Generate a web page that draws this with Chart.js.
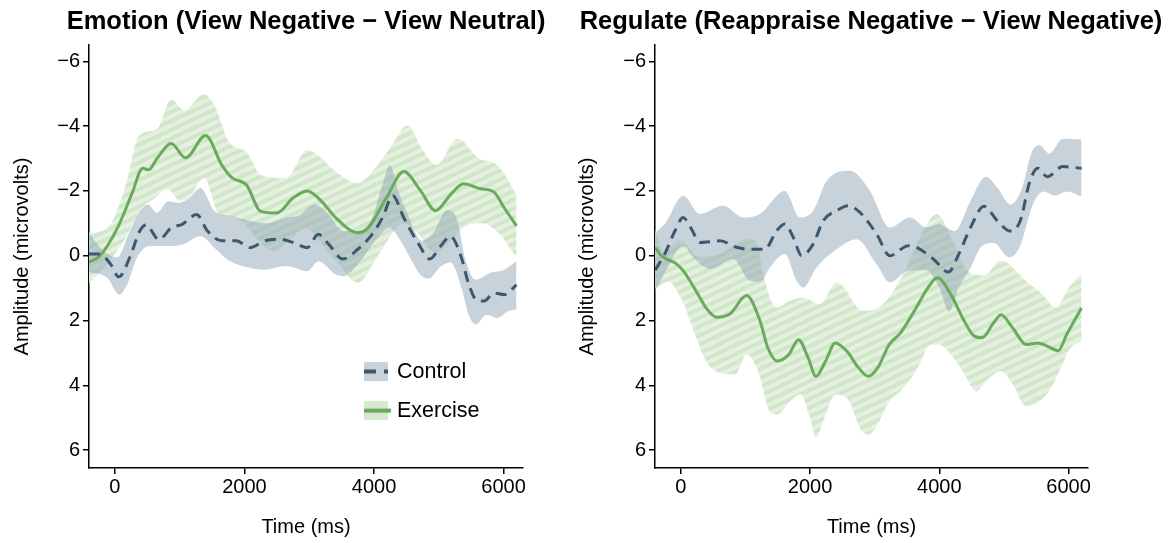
<!DOCTYPE html>
<html>
<head>
<meta charset="utf-8">
<script src="https://cdn.jsdelivr.net/npm/chart.js@4.4.1/dist/chart.umd.min.js"></script>
<style>
  html, body { margin: 0; padding: 0; background: #fff; }
  #wrap { position: relative; width: 1175px; height: 543px; overflow: hidden; }
  canvas { position: absolute; top: 0; }
  #emo { left: 0; }
  #reg { left: 572px; }
</style>
</head>
<body>
<div id="wrap">
  <canvas id="emo" width="612" height="543"></canvas>
  <canvas id="reg" width="598" height="543"></canvas>
</div>
<script>
// ── axis ticks ──────────────────────────────────────────────
const timeTicks = [0, 2000, 4000, 6000];
const ampTicks = [-6, -4, -2, 0, 2, 4, 6];

// ── Emotion panel (View Negative − View Neutral) ────────────
const emoCtrlT = [-400, -230, -70, 60, 240, 380, 480, 680, 870, 1040, 1260, 1430, 1650, 1870, 2090, 2310, 2530, 2750, 2970, 3140, 3300, 3520, 3750, 3970, 4130, 4290, 4460, 4690, 4860, 5030, 5180, 5340, 5460, 5590, 5700, 5850, 6010, 6200];
const emoCtrl  = [-0.05, -0.05, 0.25, 0.65, 0.0, -0.75, -0.95, -0.5, -0.86, -0.97, -1.27, -0.76, -0.46, -0.46, -0.25, -0.46, -0.51, -0.41, -0.25, -0.66, -0.36, 0.1, -0.2, -0.66, -1.17, -1.85, -1.17, -0.36, 0.1, -0.3, -0.6, 0.0, 0.86, 1.38, 1.4, 1.15, 1.2, 0.9];
const emoCtrlTopT = [-400, -180, 40, 210, 380, 510, 650, 820, 980, 1150, 1320, 1540, 1810, 2090, 2350, 2640, 2850, 3080, 3300, 3520, 3750, 3970, 4130, 4250, 4360, 4520, 4740, 4900, 5130, 5290, 5400, 5570, 5790, 6010, 6200];
const emoCtrlTop  = [-0.7, -0.15, 0.05, -0.66, -1.37, -1.58, -1.32, -1.68, -1.63, -1.78, -2.09, -1.37, -1.22, -1.07, -1.0, -1.17, -1.25, -1.58, -1.27, -0.76, -0.76, -1.17, -2.19, -2.8, -2.09, -1.27, -0.46, -0.66, -1.4, -1.07, 0.05, 0.74, 0.53, 0.43, 0.17];
const emoCtrlBotT = [-400, -120, 70, 210, 330, 540, 820, 1050, 1320, 1560, 1760, 2090, 2310, 2640, 2970, 3140, 3410, 3530, 3750, 4020, 4240, 4410, 4580, 4720, 4850, 5020, 5180, 5350, 5460, 5570, 5740, 5900, 6070, 6200];
const emoCtrlBot  = [0.5, 0.68, 1.2, 0.79, 0.1, -0.3, -0.3, -0.35, -0.6, -0.2, 0.15, 0.38, 0.43, 0.32, 0.48, 0.17, 0.58, 0.63, 0.27, -0.46, -0.86, -0.46, 0.15, 0.6, 0.7, 0.35, 0.2, 0.99, 1.82, 2.12, 1.82, 1.92, 1.71, 1.66];

const emoExT = [-400, -230, 40, 260, 430, 520, 650, 870, 1090, 1400, 1650, 1810, 2030, 2250, 2500, 2750, 2970, 3190, 3410, 3750, 3910, 4190, 4460, 4720, 4950, 5180, 5380, 5640, 5850, 6010, 6200];
const emoEx  = [0.2, 0.0, -0.86, -1.9, -2.7, -2.65, -3.0, -3.46, -3.02, -3.71, -2.8, -2.4, -2.19, -1.37, -1.32, -1.78, -2.0, -1.68, -1.17, -0.71, -0.86, -1.78, -2.6, -2.0, -1.39, -1.88, -2.22, -2.07, -1.97, -1.48, -0.92];
const emoExTopT = [-400, -120, 155, 376, 650, 870, 1070, 1370, 1540, 1760, 2030, 2250, 2640, 2970, 3190, 3410, 3750, 3970, 4240, 4520, 4740, 4960, 5290, 5620, 5900, 6200];
const emoExTop  = [-0.7, -0.85, -2.09, -3.71, -3.9, -4.83, -4.48, -4.98, -4.63, -3.51, -3.2, -2.49, -2.39, -3.26, -3.0, -2.59, -2.24, -2.59, -3.3, -4.02, -3.3, -2.8, -3.61, -3.0, -2.8, -1.88];
const emoExBotT = [-400, -100, 150, 400, 600, 820, 1000, 1150, 1380, 1600, 1800, 2000, 2200, 2450, 2700, 2950, 3200, 3450, 3750, 4000, 4200, 4450, 4650, 4950, 5200, 5400, 5650, 5900, 6200];
const emoExBot  = [0.85, 0.2, -0.5, -1.45, -1.75, -2.05, -1.7, -1.8, -2.4, -1.3, -1.2, -1.0, -0.5, -0.15, -0.5, -0.85, -0.35, 0.25, 0.84, 0.2, -0.45, -1.0, -0.75, -0.1, -0.5, -0.9, -1.0, -0.75, 0.05];

// ── Regulate panel (Reappraise Negative − View Negative) ────
const regCtrlT = [-400, -250, -90, 36, 165, 294, 604, 862, 1068, 1300, 1481, 1610, 1739, 1868, 2048, 2203, 2410, 2590, 2771, 3029, 3235, 3519, 3648, 3906, 4140, 4300, 4480, 4690, 4900, 5100, 5250, 5400, 5520, 5670, 5910, 6200];
const regCtrl  = [0.45, -0.05, -0.77, -1.18, -0.82, -0.41, -0.46, -0.26, -0.2, -0.2, -0.77, -0.98, -0.57, 0.0, -0.36, -1.08, -1.39, -1.54, -1.34, -0.67, 0.0, -0.31, -0.26, 0.1, 0.5, -0.05, -0.86, -1.53, -1.07, -0.76, -1.07, -2.29, -2.7, -2.44, -2.75, -2.7];
const regCtrlTopT = [-400, -240, 36, 294, 655, 965, 1222, 1610, 1842, 2048, 2255, 2616, 2926, 3235, 3545, 3803, 4000, 4240, 4480, 4720, 4900, 5100, 5280, 5430, 5550, 5700, 5910, 6200];
const regCtrlTop  = [-0.7, -1.0, -1.85, -1.29, -1.54, -1.18, -1.29, -2.0, -1.18, -1.39, -2.31, -2.62, -2.0, -0.87, -1.18, -0.87, -0.97, -0.76, -1.68, -2.44, -2.09, -1.58, -2.09, -3.2, -3.41, -3.15, -3.61, -3.59];
const regCtrlBotT = [-400, -240, 36, 191, 449, 810, 1068, 1222, 1400, 1610, 1791, 1894, 2100, 2410, 2720, 3029, 3235, 3519, 3800, 4000, 4150, 4300, 4480, 4660, 4840, 5080, 5250, 5430, 5610, 5790, 5970, 6200];
const regCtrlBot  = [1.1, 0.5, -0.3, 0.05, 0.41, 0.1, 0.77, 0.8, 0.3, -0.05, 0.77, 0.98, 0.36, -0.2, -0.51, 0.26, 0.82, 0.46, 0.45, 0.99, 1.71, 0.99, 0.38, -0.3, -0.4, 0.05, -0.3, -1.5, -1.98, -1.85, -1.98, -1.83];

const regExT = [-400, -300, -170, -90, 36, 294, 390, 553, 758, 1017, 1223, 1345, 1495, 1670, 1820, 1970, 2090, 2240, 2390, 2570, 2750, 2900, 3045, 3225, 3400, 3640, 3820, 3970, 4180, 4360, 4540, 4660, 4840, 4955, 5135, 5345, 5520, 5670, 5840, 5970, 6200];
const regEx  = [-0.26, 0.0, 0.15, 0.22, 0.46, 1.29, 1.61, 1.9, 1.8, 1.23, 2.0, 2.84, 3.25, 3.05, 2.59, 3.15, 3.72, 3.25, 2.69, 2.95, 3.46, 3.72, 3.46, 2.74, 2.38, 1.61, 1.0, 0.68, 1.2, 1.92, 2.48, 2.53, 2.07, 1.82, 2.23, 2.74, 2.69, 2.79, 2.93, 2.43, 1.61];
const regExTopT = [-400, -274, -15, 294, 604, 1000, 1170, 1274, 1481, 1687, 1900, 2150, 2410, 2822, 3131, 3441, 3751, 3958, 4200, 4450, 4700, 4950, 5350, 5600, 5800, 6000, 6200];
const regExTop  = [-0.8, -0.15, -0.46, 0.05, -0.05, -0.51, -0.45, 0.57, 1.6, 1.39, 1.3, 1.5, 0.82, 1.7, 1.49, 0.57, -0.77, -1.29, -0.5, 0.5, 0.6, 0.15, 0.8, 1.2, 1.6, 1.0, 0.55];
const regExBotT = [-400, -200, 0, 240, 390, 540, 840, 1015, 1195, 1375, 1495, 1670, 1850, 2000, 2090, 2240, 2390, 2570, 2800, 2900, 3045, 3225, 3400, 3640, 3880, 4000, 4180, 4360, 4570, 4720, 4955, 5135, 5345, 5550, 5730, 5880, 6030, 6200];
const regExBot  = [1.0, 0.8, 1.3, 2.54, 3.25, 3.56, 3.67, 3.05, 3.56, 4.8, 4.9, 4.54, 4.28, 5.0, 5.62, 4.9, 4.28, 4.39, 5.41, 5.52, 5.2, 4.49, 4.18, 3.56, 2.74, 2.74, 3.05, 3.56, 4.18, 3.87, 3.56, 3.97, 4.64, 4.49, 4.08, 3.46, 2.84, 2.64];

// ── styling ─────────────────────────────────────────────────
const CTRL_LINE = '#3c5870';
const CTRL_BAND = 'rgba(145,165,181,0.5)';
const EX_LINE = '#6aaa5c';
const EX_KEY = '#d6e9cf';

Chart.defaults.font.family = "'Liberation Sans', Arial, Helvetica, sans-serif";
Chart.defaults.color = '#000';

function pts(ts, vs) {
  return ts.map((t, i) => ({ x: t, y: vs[i] }));
}

function minusFmt(v) {
  return v < 0 ? '\u2212' + Math.abs(v) : String(v);
}

function stripes() {
  const c = document.createElement('canvas');
  c.width = 4; c.height = 8;
  const g = c.getContext('2d');
  g.fillStyle = '#d2e7ca';
  g.fillRect(0, 0, 4, 8);
  g.fillStyle = '#e5f1e0';
  g.fillRect(0, 0, 4, 4);
  const p = g.createPattern(c, 'repeat');
  p.setTransform(new DOMMatrix().rotate(-25));
  return p;
}

// legend drawn inside the left panel
const cornerLegend = {
  id: 'cornerLegend',
  afterDraw(chart) {
    const { ctx, chartArea } = chart;
    const kx = chartArea.left + 275;
    const tx = chartArea.left + 308;
    const rows = [
      { label: 'Control', y: chartArea.top + 317, fill: 'rgb(200,210,218)', color: CTRL_LINE, dash: [12, 8] },
      { label: 'Exercise', y: chartArea.top + 356, fill: EX_KEY, color: EX_LINE, dash: [] }
    ];
    ctx.save();
    rows.forEach(r => {
      ctx.fillStyle = r.fill;
      ctx.fillRect(kx, r.y, 24, 19);
      ctx.strokeStyle = r.color;
      ctx.lineWidth = 4;
      ctx.setLineDash(r.dash);
      ctx.beginPath();
      ctx.moveTo(kx, r.y + 9.5);
      ctx.lineTo(kx + (r.dash.length ? 24 : 27), r.y + 9.5);
      ctx.stroke();
      ctx.setLineDash([]);
      ctx.fillStyle = '#000';
      ctx.font = "21.5px 'Liberation Sans', Arial, sans-serif";
      ctx.textBaseline = 'middle';
      ctx.textAlign = 'left';
      ctx.fillText(r.label, tx, r.y + 10);
    });
    ctx.restore();
  }
};

function makeChart(id, title, d, opt) {
  const edge = { borderColor: 'rgba(0,0,0,0)', borderWidth: 1, pointRadius: 0 };
  const tickGrid = { display: true, drawOnChartArea: false, drawTicks: true, tickLength: 6, color: '#000', lineWidth: 1.5 };
  return new Chart(document.getElementById(id), {
    type: 'line',
    data: {
      datasets: [
        { label: 'Control', data: pts(d.ctrlT, d.ctrl), borderColor: CTRL_LINE, borderWidth: 3, borderDash: [11, 7], order: 1 },
        { label: 'Exercise', data: pts(d.exT, d.ex), borderColor: EX_LINE, borderWidth: 3, order: 2 },
        { ...edge, data: pts(d.ctrlTopT, d.ctrlTop), fill: 3, backgroundColor: CTRL_BAND, order: 5 },
        { ...edge, data: pts(d.ctrlBotT, d.ctrlBot), fill: false, order: 5 },
        { ...edge, data: pts(d.exTopT, d.exTop), fill: 5, backgroundColor: stripes(), order: 6 },
        { ...edge, data: pts(d.exBotT, d.exBot), fill: false, order: 6 }
      ]
    },
    options: {
      responsive: false,
      animation: false,
      devicePixelRatio: 1,
      layout: { padding: 0 },
      elements: {
        point: { radius: 0 },
        line: { cubicInterpolationMode: 'monotone', fill: false }
      },
      plugins: {
        legend: { display: false },
        tooltip: { enabled: false },
        title: {
          display: true,
          text: title,
          font: { size: 25.5, weight: 'bold' },
          color: '#000',
          padding: { top: 7, bottom: 7.5 }
        }
      },
      scales: {
        x: {
          type: 'linear',
          min: -400,
          max: 6300,
          afterBuildTicks: s => { s.ticks = timeTicks.map(v => ({ value: v })); },
          ticks: { font: { size: 20 }, padding: 1, maxRotation: 0, autoSkip: false, callback: v => String(v) },
          grid: tickGrid,
          border: { display: true, color: '#000', width: 1.5 },
          title: { display: true, text: 'Time (ms)', font: { size: 20 }, padding: { top: 0, bottom: 4 } },
          afterFit: s => { s.height = 75; }
        },
        y: {
          type: 'linear',
          reverse: true,
          min: -6.5,
          max: 6.55,
          afterBuildTicks: s => { s.ticks = ampTicks.map(v => ({ value: v })); },
          ticks: { font: { size: 20 }, padding: 3, autoSkip: false, callback: minusFmt },
          grid: tickGrid,
          border: { display: true, color: '#000', width: 1.5 },
          title: { display: true, text: 'Amplitude (microvolts)', font: { size: 20 }, padding: { top: opt.yTitlePad, bottom: 0 } },
          afterFit: s => { s.width = opt.yWidth; }
        },
        // empty right-hand gutter so the title stays centred on the panel
        gutter: {
          type: 'linear',
          position: 'right',
          display: true,
          ticks: { display: false },
          grid: { display: false },
          border: { display: false },
          afterFit: s => { s.width = opt.padRight; }
        }
      }
    },
    plugins: opt.legend ? [cornerLegend] : []
  });
}

makeChart('emo', 'Emotion (View Negative \u2212 View Neutral)', {
  ctrlT: emoCtrlT, ctrl: emoCtrl, ctrlTopT: emoCtrlTopT, ctrlTop: emoCtrlTop, ctrlBotT: emoCtrlBotT, ctrlBot: emoCtrlBot,
  exT: emoExT, ex: emoEx, exTopT: emoExTopT, exTop: emoExTop, exBotT: emoExBotT, exBot: emoExBot
}, { padRight: 89, yWidth: 89, yTitlePad: 10.5, legend: true });

makeChart('reg', 'Regulate (Reappraise Negative \u2212 View Negative)', {
  ctrlT: regCtrlT, ctrl: regCtrl, ctrlTopT: regCtrlTopT, ctrlTop: regCtrlTop, ctrlBotT: regCtrlBotT, ctrlBot: regCtrlBot,
  exT: regExT, ex: regEx, exTopT: regExTopT, exTop: regExTop, exBotT: regExBotT, exBot: regExBot
}, { padRight: 82, yWidth: 83, yTitlePad: 3, legend: false });
</script>
</body>
</html>
